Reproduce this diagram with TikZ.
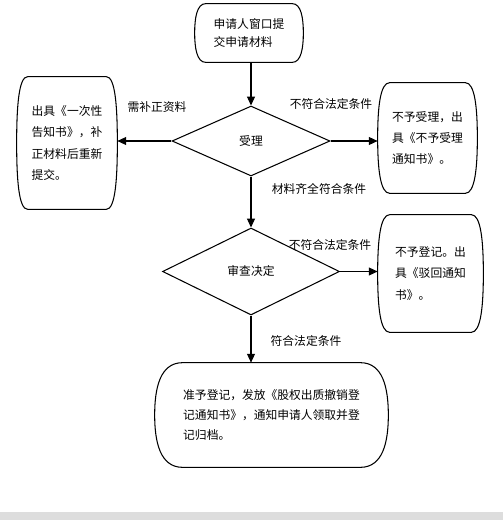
\documentclass[tikz,border=0pt]{standalone}
\usepackage{fontspec}
\newfontfamily\cjk{Noto Sans CJK SC}
\usetikzlibrary{shapes.geometric,arrows.meta}

% outline with bulging sides: node, bulge, side control
\newcommand{\boxoutline}[3]{%
  \draw[line width=0.6pt] ([xshift=#2]#1.north west) -- ([xshift=-#2]#1.north east)
    to[out=0,in=90,out distance=0.8*#2,in distance=#3] (#1.east)
    to[out=-90,in=0,out distance=#3,in distance=0.8*#2] ([xshift=-#2]#1.south east)
    -- ([xshift=#2]#1.south west)
    to[out=180,in=-90,out distance=0.8*#2,in distance=#3] (#1.west)
    to[out=90,in=180,out distance=#3,in distance=0.8*#2] ([xshift=#2]#1.north west);}

\begin{document}
\begin{tikzpicture}[x=0.02cm, y=-0.02cm,
  every node/.style={font=\cjk\fontsize{6.7pt}{12.2pt}\selectfont},
  flowbox/.style={rectangle, align=left, inner sep=0pt},
  decide/.style={diamond, draw, line width=0.6pt, inner sep=0pt},
  flow/.style={draw, line width=0.6pt, -{Triangle[length=5pt,width=4.5pt]}}
]
  \useasboundingbox (0,0) rectangle (503,520);
  \fill[gray!27] (0,512) rectangle (503,520);

  \node[flowbox, minimum width=2.16cm, minimum height=1.16cm,
        font=\cjk\fontsize{6.7pt}{10.2pt}\selectfont] (apply) at (249,33) {申请人窗口提\\交申请材料};
  \node[decide, minimum width=3.16cm, minimum height=1.4cm] (accept) at (251,141) {受理};
  \node[flowbox, minimum width=2cm, minimum height=2.64cm]
        (supp) at (67,143) {出具《一次性\\告知书》，补\\正材料后重新\\提交。};
  \node[flowbox, minimum width=1.98cm, minimum height=2.2cm]
        (reject) at (427.5,138) {不予受理，出\\具《不予受理\\通知书》。};
  \node[decide, minimum width=3.54cm, minimum height=1.74cm] (review) at (251,271.5) {审查决定};
  \node[flowbox, minimum width=2.1cm, minimum height=2.34cm]
        (deny) at (430.5,273.5) {不予登记。出\\具《驳回通知\\书》。};
  \node[flowbox, minimum width=4.66cm, minimum height=2.08cm,
        font=\cjk\fontsize{6.7pt}{11.4pt}\selectfont]
        (grant) at (271.5,415) {准予登记，发放《股权出质撤销登\\记通知书》，通知申请人领取并登\\记归档。};

  \boxoutline{apply}{0.22cm}{0.3cm}
  \boxoutline{supp}{0.22cm}{0.75cm}
  \boxoutline{reject}{0.24cm}{0.6cm}
  \boxoutline{deny}{0.24cm}{0.65cm}
  \boxoutline{grant}{0.56cm}{0.55cm}

  \draw[flow] (apply.south -| accept.north) -- (accept.north);
  \draw[flow] (accept.west) -- (accept.west -| supp.east);
  \draw[flow] (accept.east) -- (accept.east -| reject.west);
  \draw[flow] (accept.south) -- (review.north);
  \draw[flow] (review.east) -- (review.east -| deny.west);
  \draw[flow] (review.south) -- (review.south |- grant.north);

  \node (lsupp) at (157,107) {需补正资料};
  \node (lreject) at (331,104) {不符合法定条件};
  \node (lpass) at (319,189) {材料齐全符合条件};
  \node (ldeny) at (330,245) {不符合法定条件};
  \node (lgrant) at (306,341) {符合法定条件};
\end{tikzpicture}
\end{document}
